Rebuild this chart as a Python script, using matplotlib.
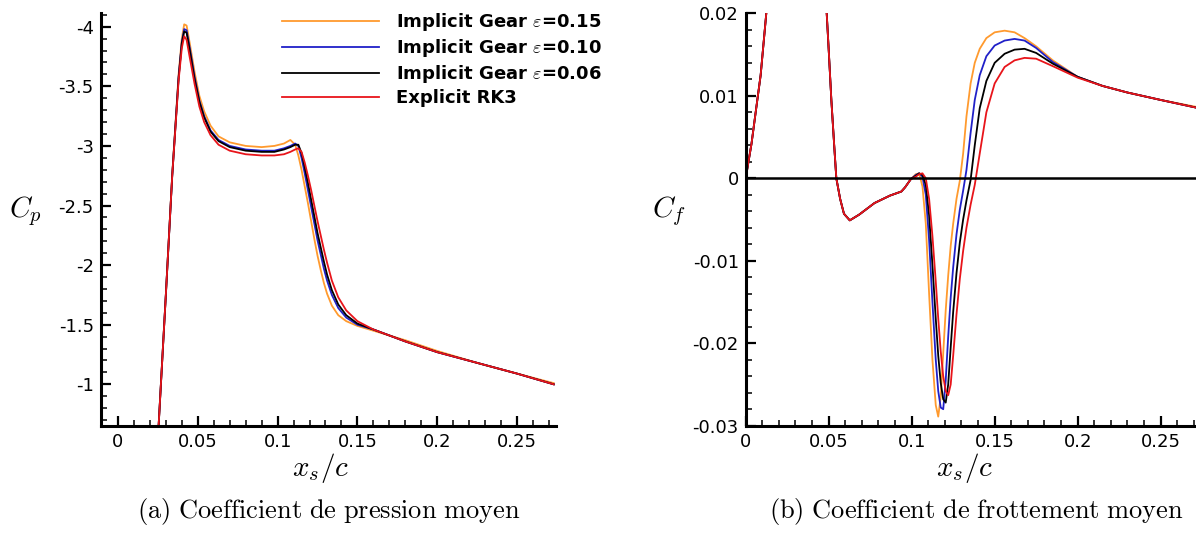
import matplotlib
matplotlib.use("Agg")
import matplotlib.pyplot as plt
from matplotlib.ticker import MultipleLocator

plt.rcParams['font.family'] = ['DejaVu Sans']
plt.rcParams['mathtext.fontset'] = 'cm'

# --- donnees ---
labels = ["Implicit Gear $\\varepsilon$=0.15", "Implicit Gear $\\varepsilon$=0.10",
          "Implicit Gear $\\varepsilon$=0.06", "Explicit RK3"]
colors = ["#ff9a2e", "#2020c8", "#000000", "#e8141a"]

# Cp moyen
x_cp = [0.0255, 0.030, 0.034, 0.038, 0.040, 0.0415, 0.043, 0.045, 0.048, 0.051,
        0.054, 0.058, 0.063, 0.070, 0.080, 0.090, 0.098, 0.104, 0.108, 0.111,
        0.113, 0.115, 0.117, 0.119, 0.121, 0.123, 0.125, 0.127, 0.129, 0.131,
        0.134, 0.138, 0.143, 0.150, 0.160, 0.180, 0.200, 0.225, 0.250, 0.273]
cp_015 = [-0.66, -1.75, -2.76, -3.60, -3.90, -4.02, -4.01, -3.86, -3.62, -3.42,
          -3.29, -3.17, -3.08, -3.03, -3.00, -2.99, -3.00, -3.02, -3.05, -3.01,
          -2.92, -2.80, -2.66, -2.52, -2.37, -2.22, -2.08, -1.96, -1.85, -1.76,
          -1.66, -1.58, -1.53, -1.49, -1.45, -1.37, -1.28, -1.18, -1.09, -1.01]
cp_010 = [-0.66, -1.75, -2.75, -3.58, -3.87, -3.98, -3.97, -3.82, -3.58, -3.38,
          -3.25, -3.13, -3.05, -3.00, -2.97, -2.96, -2.96, -2.98, -3.00, -3.02,
          -3.00, -2.90, -2.77, -2.63, -2.49, -2.35, -2.21, -2.09, -1.97, -1.87,
          -1.75, -1.64, -1.56, -1.50, -1.46, -1.36, -1.27, -1.18, -1.09, -1.00]
cp_006 = [-0.66, -1.75, -2.75, -3.57, -3.86, -3.96, -3.95, -3.80, -3.56, -3.37,
          -3.24, -3.12, -3.04, -2.99, -2.96, -2.95, -2.95, -2.97, -2.99, -3.01,
          -3.01, -2.94, -2.82, -2.69, -2.55, -2.41, -2.27, -2.15, -2.03, -1.92,
          -1.79, -1.67, -1.58, -1.51, -1.46, -1.36, -1.27, -1.18, -1.09, -1.00]
cp_rk3 = [-0.66, -1.75, -2.75, -3.55, -3.82, -3.92, -3.89, -3.74, -3.52, -3.33,
          -3.20, -3.09, -3.01, -2.96, -2.93, -2.92, -2.92, -2.93, -2.95, -2.97,
          -2.98, -2.95, -2.86, -2.75, -2.63, -2.50, -2.37, -2.25, -2.13, -2.02,
          -1.87, -1.73, -1.62, -1.53, -1.46, -1.36, -1.27, -1.18, -1.09, -1.00]

# Cf moyen
x_cf = [0, 0.0035, 0.0062, 0.009, 0.0124, 0.020, 0.045, 0.0488, 0.050, 0.0516,
        0.0535, 0.0546, 0.0569, 0.0592, 0.0627, 0.0684, 0.0776, 0.0869, 0.0938, 0.096,
        0.0995, 0.1025, 0.1045, 0.1065, 0.1085, 0.1105, 0.1125, 0.1145, 0.1160, 0.1175,
        0.1190, 0.1205, 0.1220, 0.1235, 0.1250, 0.1270, 0.1290, 0.1310, 0.1330, 0.1355,
        0.1380, 0.1410, 0.1450, 0.1500, 0.1560, 0.1620, 0.1680, 0.1750, 0.1850, 0.2000,
        0.2150, 0.2300, 0.2500, 0.2730]
cf_debut = [0, 0.0042, 0.0083, 0.0125, 0.020, 0.040, 0.030, 0.020, 0.0156, 0.0095,
            0.0034, 0.0, -0.0025, -0.0043, -0.0051, -0.0044, -0.0030, -0.0021, -0.0016, -0.0011,
            -0.0001]
cf_015 = cf_debut + [0.0005, 0.0006, -0.0010, -0.0055, -0.0140, -0.0220, -0.0275, -0.0289, -0.0265,
                     -0.0212, -0.0160, -0.0118, -0.0082, -0.0055, -0.0025, -0.0003, 0.0030, 0.0075, 0.0115,
                     0.0140, 0.0157, 0.0170, 0.0177, 0.0179, 0.0177, 0.0170, 0.0160, 0.0143, 0.0123,
                     0.0112, 0.0104, 0.0095, 0.0086]
cf_010 = cf_debut + [0.0004, 0.0006, 0.0002, -0.0020, -0.0075, -0.0150, -0.0220, -0.0258, -0.0278,
                     -0.0280, -0.0245, -0.0192, -0.0145, -0.0108, -0.0068, -0.0038, -0.0015, 0.0010, 0.0055,
                     0.0095, 0.0125, 0.0148, 0.0161, 0.0167, 0.0169, 0.0167, 0.0158, 0.0141, 0.0123,
                     0.0112, 0.0104, 0.0095, 0.0085]
cf_006 = cf_debut + [0.0003, 0.0006, 0.0004, -0.0008, -0.0045, -0.0105, -0.0170, -0.0215, -0.0248,
                     -0.0268, -0.0272, -0.0250, -0.0205, -0.0162, -0.0115, -0.0078, -0.0050, -0.0027, -0.0002,
                     0.0040, 0.0085, 0.0118, 0.0140, 0.0151, 0.0156, 0.0157, 0.0152, 0.0139, 0.0123,
                     0.0112, 0.0104, 0.0095, 0.0085]
cf_rk3 = cf_debut + [0.0002, 0.0005, 0.0006, 0.0000, -0.0025, -0.0070, -0.0125, -0.0170, -0.0210,
                     -0.0240, -0.0258, -0.0263, -0.0250, -0.0215, -0.0165, -0.0122, -0.0088, -0.0060, -0.0032,
                     -0.0008, 0.0030, 0.0080, 0.0115, 0.0135, 0.0143, 0.0146, 0.0145, 0.0136, 0.0122,
                     0.0112, 0.0104, 0.0095, 0.0085]

x_ticks = [0, 0.05, 0.1, 0.15, 0.2, 0.25]
x_ticklabels = ["0", "0.05", "0.1", "0.15", "0.2", "0.25"]
cp_ticks = [-4, -3.5, -3, -2.5, -2, -1.5, -1]
cp_ticklabels = ["-4", "-3.5", "-3", "-2.5", "-2", "-1.5", "-1"]
cf_ticks = [0.02, 0.01, 0, -0.01, -0.02, -0.03]
cf_ticklabels = ["0.02", "0.01", "0", "-0.01", "-0.02", "-0.03"]

fig = plt.figure(figsize=(11.96, 5.34), dpi=100)
ax1 = fig.add_axes([0.0842, 0.2028, 0.3807, 0.7722])
ax2 = fig.add_axes([0.6235, 0.2028, 0.3765, 0.7722])


def style(ax):
    for s in ["top", "right"]:
        ax.spines[s].set_visible(False)
    for s in ["left", "bottom"]:
        ax.spines[s].set_linewidth(2.2)
    ax.tick_params(which="major", direction="in", length=7, width=1.6, labelsize=13, pad=5)
    ax.tick_params(which="minor", direction="in", length=4, width=1.1)
    ax.xaxis.set_minor_locator(MultipleLocator(0.01))


# (a) Cp
for y, c, l in zip([cp_015, cp_010, cp_006, cp_rk3], colors, labels):
    ax1.plot(x_cp, y, color=c, lw=1.3, label=l)
ax1.set_xlim(-0.0108, 0.2744)
ax1.set_ylim(-0.653, -4.112)
style(ax1)
ax1.set_xticks(x_ticks)
ax1.set_xticklabels(x_ticklabels)
ax1.set_yticks(cp_ticks)
ax1.set_yticklabels(cp_ticklabels)
ax1.yaxis.set_minor_locator(MultipleLocator(0.1))
ax1.set_xlabel("$x_s/c$", fontsize=21, labelpad=0)
ax1.xaxis.label.set_x(0.482)
ax1.set_ylabel("$C_p$", fontsize=21, rotation=0)
ax1.yaxis.set_label_coords(-0.166, 0.48)
ax1.legend(loc="upper left", bbox_to_anchor=(0.362, 1.045), frameon=False,
           handlelength=5.4, handletextpad=0.95, labelspacing=0.22,
           prop={"weight": "bold", "size": 13})
ax1.text(0.5, -0.207, r"$\mathrm{(a)\ Coefficient\ de\ pression\ moyen}$",
         transform=ax1.transAxes, ha="center", va="center", fontsize=19)

# (b) Cf
for y, c in zip([cf_015, cf_010, cf_006, cf_rk3], colors):
    ax2.plot(x_cf, y, color=c, lw=1.3)
ax2.axhline(0, color="black", lw=1.8)
ax2.set_xlim(0, 0.2713)
ax2.set_ylim(-0.03, 0.02)
style(ax2)
ax2.set_xticks(x_ticks)
ax2.set_xticklabels(x_ticklabels)
ax2.set_yticks(cf_ticks)
ax2.set_yticklabels(cf_ticklabels)
ax2.yaxis.set_minor_locator(MultipleLocator(0.002))
ax2.set_xlabel("$x_s/c$", fontsize=21, labelpad=0)
ax2.xaxis.label.set_x(0.487)
ax2.set_ylabel("$C_f$", fontsize=21, rotation=0)
ax2.yaxis.set_label_coords(-0.171, 0.48)
ax2.text(0.512, -0.207, r"$\mathrm{(b)\ Coefficient\ de\ frottement\ moyen}$",
         transform=ax2.transAxes, ha="center", va="center", fontsize=19)

fig.savefig("out.png", dpi=100)
